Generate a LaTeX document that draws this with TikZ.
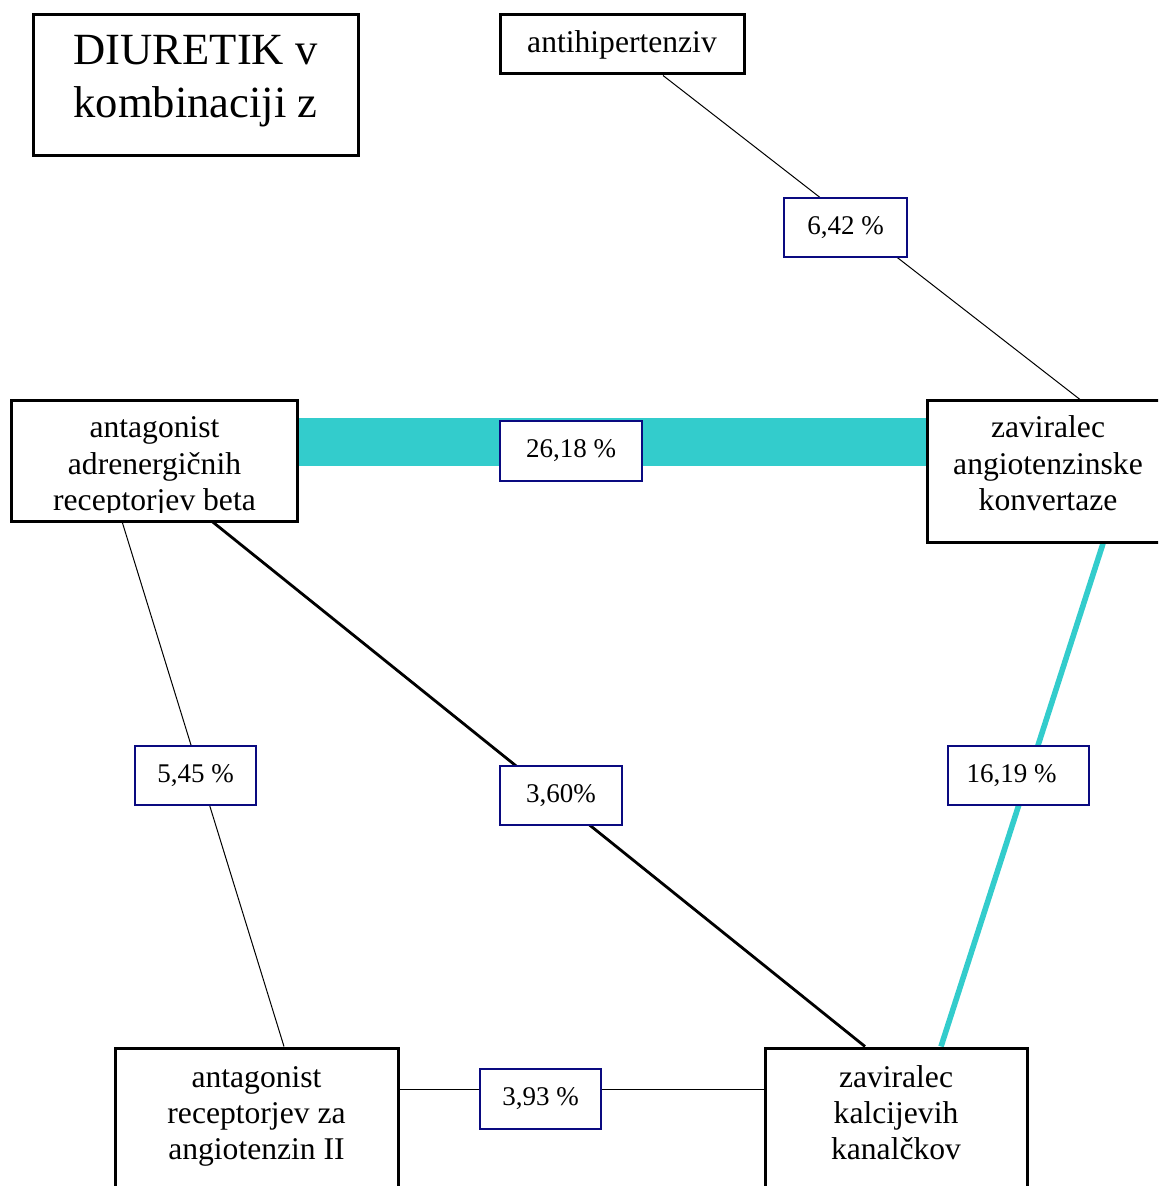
\documentclass[tikz,border=0pt]{standalone}
\usepackage{fontspec}
\setmainfont{Liberation Serif}
\usetikzlibrary{backgrounds}

\definecolor{barteal}{RGB}{51,204,204}
\definecolor{labelnavy}{RGB}{10,10,128}

% fixed-size text block: width, height, first-baseline depth, lines
\newcommand\boxtext[4]{\begin{minipage}[t][#2][t]{#1}\centering\rule{0pt}{#3}#4\end{minipage}}

\begin{document}
\begin{tikzpicture}[x=0.5pt,y=-0.5pt,
  boxframe/.style={draw=black, line width=1.5pt},
  box/.style={boxframe, inner sep=0pt, font=\fontsize{15.8}{18}\selectfont},
  boxtxt/.style={inner sep=0pt, font=\fontsize{15.8}{18}\selectfont},
  pct/.style={draw=labelnavy, line width=1.3pt, fill=white, inner sep=0pt,
              minimum height=29.5pt, font=\fontsize{13.5}{16}\selectfont},
  thinlink/.style={draw=black, line width=0.5pt},
  boldlink/.style={draw=black, line width=1.4pt},
  teallink/.style={draw=barteal, line width=2.8pt},
  tealbar/.style={draw=barteal, line width=24pt}]
\useasboundingbox (0,0) rectangle (1158,1186);
\clip (0,0) rectangle (1158,1186);

% title
\node[box, font=\fontsize{22.3}{26.5}\selectfont] (title) at (195.5,85.5)
  {\boxtext{162.5pt}{70.5pt}{25pt}{DIURETIK v\\kombinaciji z}};

% drug classes
\node[box] (anti) at (622,44.5)
  {\boxtext{122pt}{29.5pt}{19pt}{antihipertenziv}};
\begin{scope}
  \clip (0,380) rectangle (320,512);
  \node[boxtxt] (beta) at (154.5,461)
    {\boxtext{142.5pt}{60pt}{18.5pt}{antagonist\\adrenergičnih\\receptorjev beta}};
\end{scope}
\draw[boxframe] (beta.south west) rectangle (beta.north east);
\node[box] (ace) at (1048,471.5)
  {\boxtext{121pt}{70.5pt}{18.5pt}{zaviralec\\angiotenzinske\\konvertaze}};
\node[box] (arb) at (256.5,1118.5)
  {\boxtext{141.5pt}{70.5pt}{19.5pt}{antagonist\\receptorjev za\\angiotenzin II}};
\node[box] (ccb) at (896,1118.5)
  {\boxtext{131pt}{70.5pt}{19.5pt}{zaviralec\\kalcijevih\\kanalčkov}};

% connectors
\begin{pgfonlayer}{background}
  \draw[thinlink] ([xshift=20.5pt]anti.south) -- ([xshift=16pt]ace.north);
  \draw[tealbar] ([yshift=9.5pt]beta.east) -- ([yshift=14.75pt]ace.west);
  \draw[thinlink] ([xshift=-16.25pt]beta.south) -- ([xshift=13.75pt]arb.north);
  \draw[boldlink] ([xshift=28.75pt]beta.south) -- ([xshift=-15.5pt]ccb.north);
  \draw[teallink] ([xshift=27.5pt]ace.south) -- ([xshift=22.5pt]ccb.north);
  \draw[thinlink] ([yshift=14.75pt]arb.east) -- ([yshift=14.75pt]ccb.west);
\end{pgfonlayer}

% percentages
\node[pct, minimum width=61.5pt] (p1) at (845.5,227.5) {6,42 \%};
\node[pct, minimum width=71pt, minimum height=30pt] (p2) at (571,451) {26,18 \%};
\node[pct, minimum width=60.5pt] (p3) at (195.5,775.5) {5,45 \%};
\node[pct, minimum width=61pt] (p4) at (561,795.5) {3,60\%};
\node[pct, minimum width=70.5pt] (p5) at (1018.5,775.5) {16,19 \%\hspace*{7pt}};
\node[pct, minimum width=60.5pt, minimum height=30pt] (p6) at (540.5,1099) {3,93 \%};
\end{tikzpicture}
\end{document}
